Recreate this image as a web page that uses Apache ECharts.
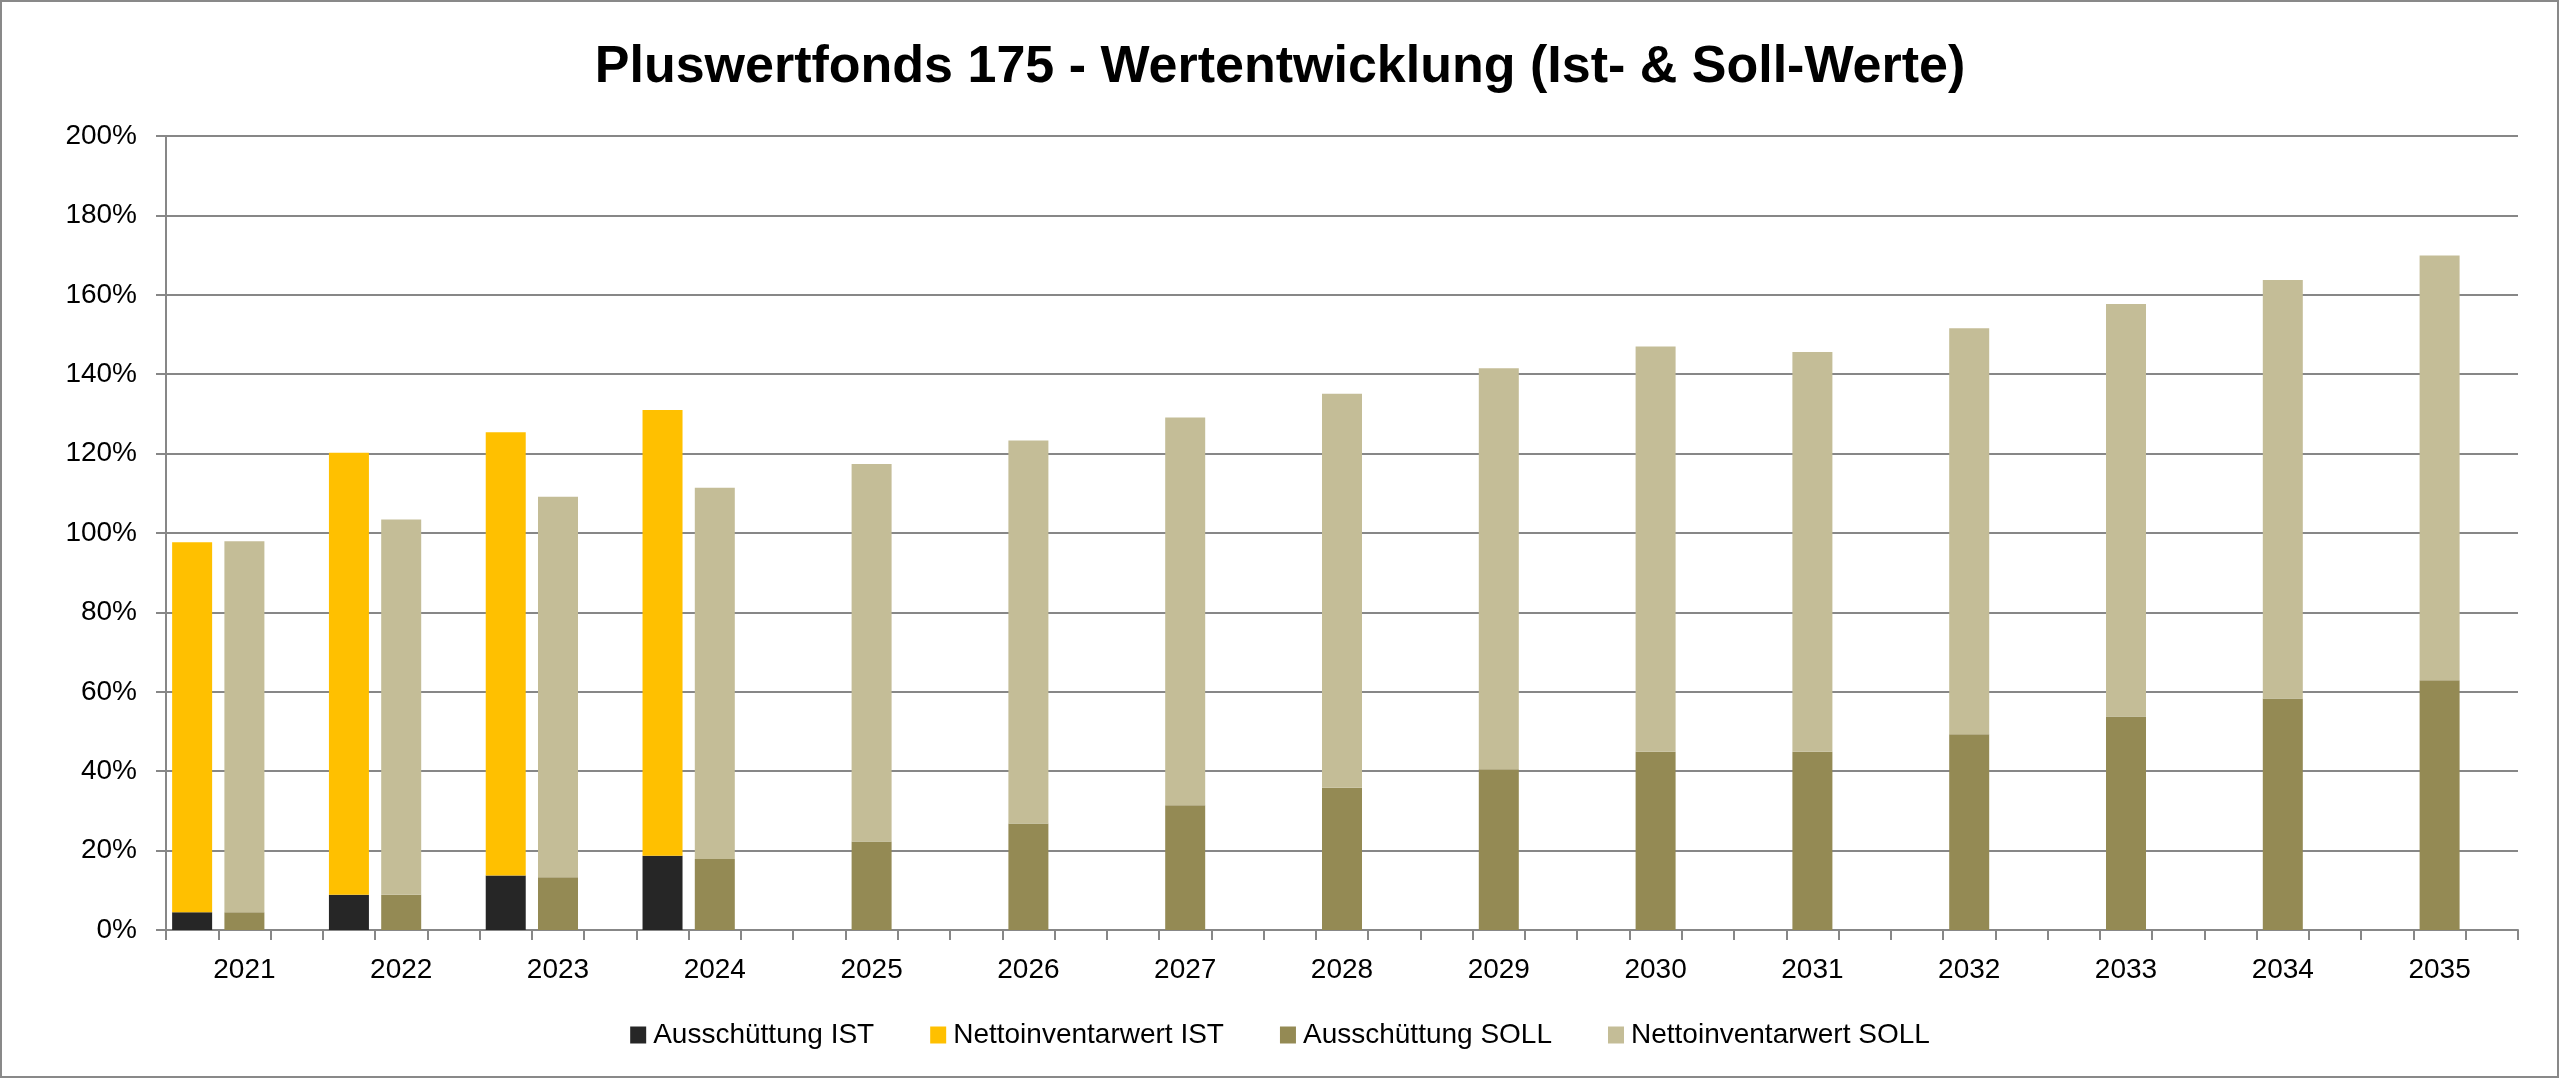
<!DOCTYPE html>
<html>
<head>
<meta charset="utf-8">
<script src="https://cdn.jsdelivr.net/npm/echarts@6/dist/echarts.min.js"></script>
<style>
html,body{margin:0;padding:0;background:#fff;}
#chart{width:2560px;height:1079px;}
</style>
</head>
<body>
<div id="chart"></div>
<script>
// ---- data (percent) ----
const years = ['2021','2022','2023','2024','2025','2026','2027','2028','2029','2030','2031','2032','2033','2034','2035'];
const yTickMax = 200;
const yTickStep = 20;
const ausschuettungIst = [4.5, 8.9, 13.7, 18.7, null, null, null, null, null, null, null, null, null, null, null];
const nettoinventarwertIst = [93.2, 111.3, 111.7, 112.3, null, null, null, null, null, null, null, null, null, null, null];
const ausschuettungSoll = [4.5, 8.9, 13.3, 17.9, 22.3, 26.8, 31.4, 35.8, 40.5, 44.9, 44.9, 49.3, 53.8, 58.3, 62.9];
const nettoinventarwertSoll = [93.4, 94.5, 95.8, 93.5, 95.1, 96.5, 97.7, 99.3, 101.0, 102.1, 100.7, 102.3, 103.9, 105.4, 107.0];
const seriesNames = ['Ausschüttung IST', 'Nettoinventarwert IST', 'Ausschüttung SOLL', 'Nettoinventarwert SOLL'];
const titleText = 'Pluswertfonds 175 - Wertentwicklung (Ist- & Soll-Werte)';

// Each year occupies three slots on the category axis: IST, SOLL, empty.
const slotCategories = years.flatMap(y => [y + '|0', y + '|1', y + '|2']);
function toSlots(values, slot) {
  const out = [];
  values.forEach(v => { for (let s = 0; s < 3; s++) out.push(s === slot ? v : null); });
  return out;
}

const FONT = 'Liberation Sans';
const GRAY = '#878787';

function bar(name, data, color) {
  return {
    name: name, type: 'bar', stack: 'all', data: data,
    barWidth: 40,
    itemStyle: { color: color },
    emphasis: { disabled: true }
  };
}

const chart = echarts.init(document.getElementById('chart'), null, { renderer: 'canvas' });
chart.setOption({
  backgroundColor: '#ffffff',
  animation: false,
  title: {
    text: titleText,
    left: 'center',
    top: 37,
    textStyle: { fontFamily: FONT, fontWeight: 'bold', fontSize: 52, color: '#000' }
  },
  legend: {
    data: seriesNames,
    left: 'center',
    top: 1016,
    itemWidth: 16,
    itemHeight: 17,
    itemGap: 56,
    icon: 'rect',
    textStyle: { fontFamily: FONT, fontSize: 28, color: '#000', padding: [0, 0, 0, 2] }
  },
  grid: { left: 166, right: 42, top: 136, bottom: 149, outerBoundsMode: 'none', containLabel: false },
  xAxis: {
    type: 'category',
    data: slotCategories,
    axisLine: { show: true, lineStyle: { color: GRAY, width: 2 } },
    axisTick: { show: true, interval: 0, length: 10, lineStyle: { color: GRAY, width: 2 } },
    axisLabel: {
      fontFamily: FONT, fontSize: 28, color: '#000', margin: 26, interval: 0,
      formatter: v => (v.endsWith('|1') ? v.slice(0, 4) : '')
    },
    splitLine: { show: false }
  },
  yAxis: {
    type: 'value',
    min: 0,
    max: yTickMax,
    interval: yTickStep,
    axisLine: { show: true, lineStyle: { color: GRAY, width: 2 } },
    axisTick: { show: true, length: 10, lineStyle: { color: GRAY, width: 2 } },
    axisLabel: { fontFamily: FONT, fontSize: 28, color: '#000', margin: 29, formatter: '{value}%' },
    splitLine: { show: true, lineStyle: { color: GRAY, width: 2 } }
  },
  series: [
    bar(seriesNames[0], toSlots(ausschuettungIst, 0), '#262626'),
    bar(seriesNames[1], toSlots(nettoinventarwertIst, 0), '#FFC000'),
    bar(seriesNames[2], toSlots(ausschuettungSoll, 1), '#948A54'),
    bar(seriesNames[3], toSlots(nettoinventarwertSoll, 1), '#C4BD97')
  ],
  graphic: [
    {
      type: 'rect',
      shape: { x: 1, y: 1, width: 2557, height: 1076 },
      style: { fill: 'none', stroke: '#898989', lineWidth: 2 },
      silent: true
    }
  ]
});
</script>
</body>
</html>
